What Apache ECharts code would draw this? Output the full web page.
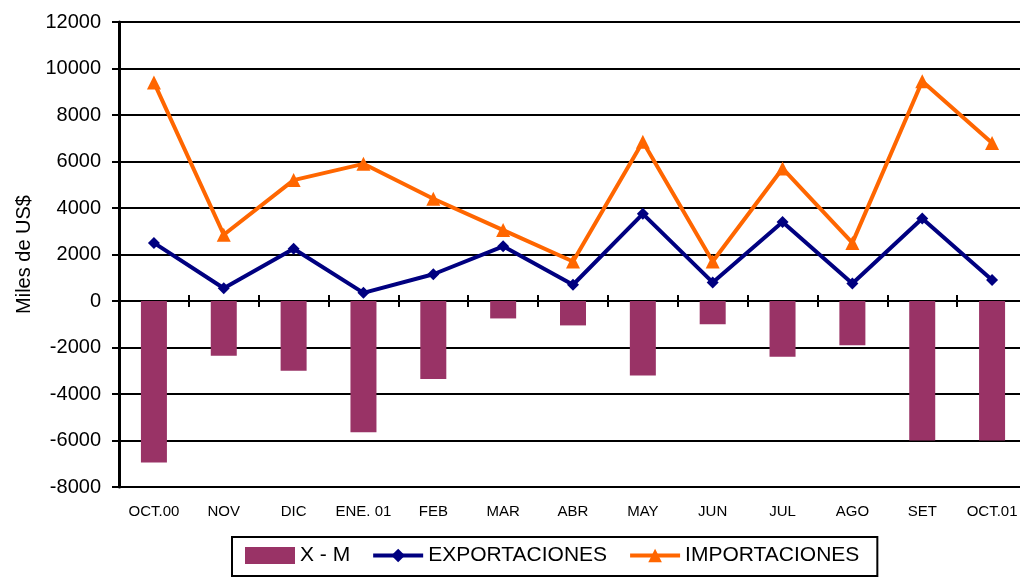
<!DOCTYPE html>
<html>
<head>
    <meta charset="utf-8">
    <title>Balanza comercial</title>
    <script src="https://cdn.jsdelivr.net/npm/echarts@6/dist/echarts.min.js"></script>
    <style>
        html, body { margin: 0; padding: 0; background: #fff; }
    </style>
</head>
<body>
<div id="main" style="width: 1020px;height:577px;"></div>
<script type="text/javascript">
    // meses
    var meses = ['OCT.00', 'NOV', 'DIC', 'ENE. 01', 'FEB', 'MAR', 'ABR', 'MAY', 'JUN', 'JUL', 'AGO', 'SET', 'OCT.01'];
    // saldo X - M
    var saldo = [-6950, -2350, -3000, -5650, -3350, -750, -1050, -3200, -1000, -2400, -1900, -6000, -6000];
    var exportaciones = [2500, 550, 2250, 350, 1150, 2350, 700, 3750, 800, 3400, 750, 3550, 900];
    var importaciones = [9400, 2850, 5200, 5900, 4400, 3050, 1700, 6850, 1700, 5700, 2500, 9450, 6800];

    var fuente = 'Liberation Sans, Arial, sans-serif';
    var myChart = echarts.init(document.getElementById('main'));

    myChart.setOption({
        animation: false,
        textStyle: { fontFamily: fuente, color: '#000' },
        grid: { left: 119, right: -7, top: 22, bottom: 90, containLabel: false, outerBoundsMode: 'none' },
        legend: {
            left: 232,
            top: 537,
            orient: 'horizontal',
            borderColor: '#000',
            borderWidth: 2,
            padding: [8, 18, 10, 13],
            itemGap: 21,
            itemWidth: 50,
            itemHeight: 17,
            lineStyle: { width: 4 },
            textStyle: { fontSize: 21, color: '#000', fontFamily: fuente },
            data: [
                { name: 'X - M', icon: 'rect' },
                'EXPORTACIONES',
                'IMPORTACIONES'
            ]
        },
        xAxis: [{
            type: 'category',
            data: meses,
            position: 'bottom',
            axisLine: { onZero: true, onZeroAxisIndex: 0, lineStyle: { color: '#000', width: 2 } },
            axisTick: { show: true, length: 6, lineStyle: { color: '#000', width: 2 } },
            axisLabel: { margin: 17, interval: 0, fontSize: 15, color: '#000', fontFamily: fuente },
            splitLine: { show: false }
        }, {
            // eje superior sobre el cero, solo para las marcas hacia arriba
            type: 'category',
            data: meses,
            position: 'top',
            axisLine: { onZero: true, onZeroAxisIndex: 0, lineStyle: { color: '#000', width: 2 } },
            axisTick: { show: true, length: 6, lineStyle: { color: '#000', width: 2 } },
            axisLabel: { show: false },
            splitLine: { show: false }
        }],
        yAxis: {
            type: 'value',
            min: -8000,
            max: 12000,
            interval: 2000,
            name: 'Miles de US$',
            nameLocation: 'middle',
            nameGap: 85,
            nameTextStyle: { fontSize: 20, color: '#000', fontFamily: fuente },
            axisLine: { show: true, lineStyle: { color: '#000', width: 3 } },
            axisTick: { show: true, length: 7, lineStyle: { color: '#000', width: 2 } },
            axisLabel: {
                fontSize: 20, color: '#000', margin: 18, fontFamily: fuente,
                formatter: function (v) { return String(v); }
            },
            splitLine: { show: true, lineStyle: { color: '#000', width: 2 } }
        },
        series: [{
            name: 'X - M',
            type: 'bar',
            data: saldo,
            barWidth: 26,
            itemStyle: { color: '#993366' }
        }, {
            name: 'EXPORTACIONES',
            type: 'line',
            data: exportaciones,
            symbol: 'diamond',
            symbolSize: 12,
            lineStyle: { color: '#000080', width: 4 },
            itemStyle: { color: '#000080' }
        }, {
            name: 'IMPORTACIONES',
            type: 'line',
            data: importaciones,
            symbol: 'triangle',
            symbolSize: 14,
            lineStyle: { color: '#ff6600', width: 4 },
            itemStyle: { color: '#ff6600' }
        }]
    });
</script>
</body>
</html>
